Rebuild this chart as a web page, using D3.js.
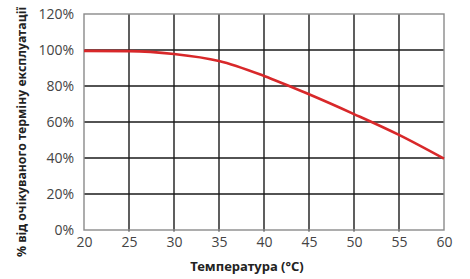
<!DOCTYPE html>
<html><head><meta charset="utf-8">
<script src="https://cdn.jsdelivr.net/npm/d3@7"></script>
<style>body{margin:0;background:#fff}svg{display:block}</style>
</head><body>
<script>
const temperatures = [20, 25, 30, 35, 40, 45, 50, 55, 60];
const lifePercent = [99.5, 99.4, 97.8, 93.9, 85.6, 75.4, 64.4, 52.8, 39.6];
const xTicks = [20, 25, 30, 35, 40, 45, 50, 55, 60];
const yTicks = [0, 20, 40, 60, 80, 100, 120];
const xTitle = "Температура (°C)";
const yTitle = "% від очікуваного терміну експлуатації";

const W = 470, H = 279;
const svg = d3.select("body").append("svg").attr("width", W).attr("height", H);
const x = d3.scaleLinear().domain([20, 60]).range([84, 444]);
const y = d3.scaleLinear().domain([0, 120]).range([230, 14]);

// grid
svg.append("g").selectAll("line").data(xTicks.slice(1, -1)).join("line")
  .attr("x1", d => x(d)).attr("x2", d => x(d)).attr("y1", y(120)).attr("y2", y(0) + 1.5)
  .attr("stroke", "#1a1a1a").attr("stroke-width", 1.4);
svg.append("g").selectAll("line").data(yTicks.slice(1, -1)).join("line")
  .attr("x1", x(20)).attr("x2", x(60)).attr("y1", d => y(d)).attr("y2", d => y(d))
  .attr("stroke", "#1a1a1a").attr("stroke-width", 1.4);
// border
svg.append("rect").attr("x", x(20)).attr("y", y(120)).attr("width", x(60) - x(20)).attr("height", y(0) - y(120))
  .attr("fill", "none").attr("stroke", "#8a8a8a").attr("stroke-width", 1.4);

// axes labels
const xAxis = d3.axisBottom(x).tickValues(xTicks).tickSize(0).tickPadding(7).tickFormat(d3.format("d"));
const gx = svg.append("g").attr("transform", `translate(0,${y(0)})`).call(xAxis);
gx.select(".domain").remove();
gx.selectAll("text").attr("font-family", "'Open Sans', sans-serif").attr("font-size", 14).attr("fill", "#444");

const yAxis = d3.axisLeft(y).tickValues(yTicks).tickSize(0).tickPadding(10).tickFormat(d => d + "%");
const gy = svg.append("g").attr("transform", `translate(${x(20)},0)`).call(yAxis);
gy.select(".domain").remove();
gy.selectAll("text").attr("font-family", "'Open Sans', sans-serif").attr("font-size", 14).attr("fill", "#444");

// line
const line = d3.line().x((d, i) => x(temperatures[i])).y(d => y(d)).curve(d3.curveMonotoneX);
svg.append("path").datum(lifePercent).attr("d", line).attr("fill", "none")
  .attr("stroke", "#d8282a").attr("stroke-width", 2.6);

// titles
svg.append("text").attr("x", 247).attr("y", 271).attr("text-anchor", "middle")
  .attr("font-family", "'Noto Sans', sans-serif").attr("font-weight", "bold").attr("font-size", 13)
  .attr("fill", "#222").text(xTitle);
svg.append("text").attr("transform", `translate(26,132) rotate(-90)`).attr("text-anchor", "middle")
  .attr("font-family", "'Noto Sans', sans-serif").attr("font-weight", "bold").attr("font-size", 12.3)
  .attr("fill", "#222").text(yTitle);
</script>
</body></html>
